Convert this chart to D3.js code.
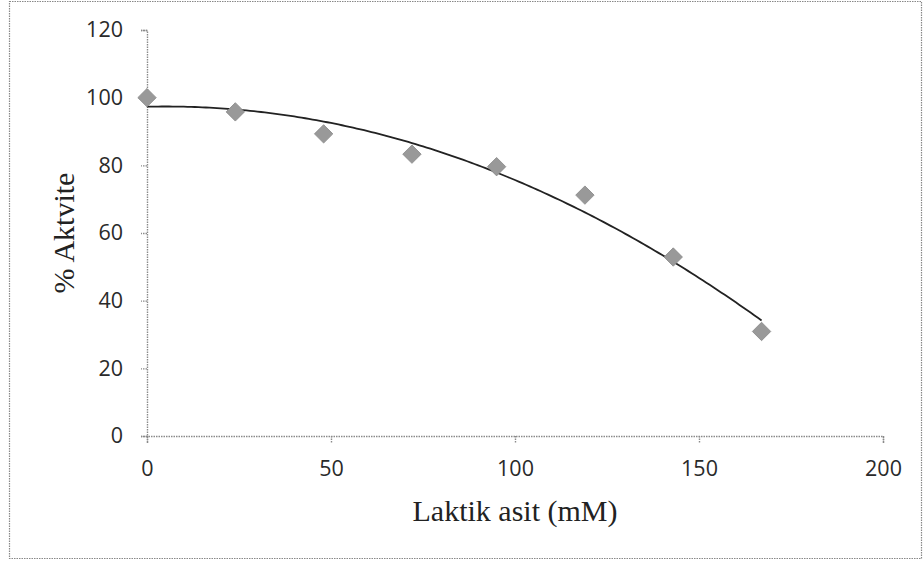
<!DOCTYPE html>
<html>
<head>
<meta charset="utf-8">
<script src="https://cdn.jsdelivr.net/npm/d3@7"></script>
<style>
	body { margin: 0; background: #fff; }
</style>
</head>
<body>
<div id="chart"></div>
<script>
// Laktik asit concentrations (mM) and measured % activity
const laktik = [0, 24, 48, 72, 95, 119, 143, 167];
const aktivite = [100, 95.8, 89.3, 83.3, 79.6, 71.2, 52.9, 30.9];
const xTicks = [0, 50, 100, 150, 200];
const yTicks = [0, 20, 40, 60, 80, 100, 120];

// 2nd order polynomial least squares (the chart's trend line)
const quadFit = (xs, ys) => {
	let s = [0, 0, 0, 0, 0], t = [0, 0, 0];
	xs.forEach((x, i) => {
		for (let k = 0; k < 5; k++) s[k] += Math.pow(x, k);
		for (let k = 0; k < 3; k++) t[k] += Math.pow(x, k) * ys[i];
	});
	// solve 3x3 normal equations
	const m = [
		[s[0], s[1], s[2], t[0]],
		[s[1], s[2], s[3], t[1]],
		[s[2], s[3], s[4], t[2]]
	];
	for (let i = 0; i < 3; i++) {
		for (let j = i + 1; j < 3; j++) {
			const f = m[j][i] / m[i][i];
			for (let k = i; k < 4; k++) m[j][k] -= f * m[i][k];
		}
	}
	const c = [0, 0, 0];
	for (let i = 2; i >= 0; i--) {
		let v = m[i][3];
		for (let k = i + 1; k < 3; k++) v -= m[i][k] * c[k];
		c[i] = v / m[i][i];
	}
	return (x) => c[0] + c[1] * x + c[2] * x * x;
};

const W = 924, H = 563;
const margin = { top: 30, right: 41, bottom: 127, left: 147 };
const width = W - margin.left - margin.right;
const height = H - margin.top - margin.bottom;

const svg = d3.select('#chart')
	.append('svg')
	.attr('width', W)
	.attr('height', H);

// outer chart frame
svg.append('rect')
	.attr('x', 9.5)
	.attr('y', 1.5)
	.attr('width', 912)
	.attr('height', 557)
	.attr('fill', 'none')
	.attr('stroke', '#888')
	.attr('stroke-width', 1.2)
	.attr('stroke-dasharray', '1.5 1');

const g = svg.append('g')
	.attr('transform', `translate(${margin.left},${margin.top})`);

const x = d3.scaleLinear().domain([0, 200]).range([0, width]);
const y = d3.scaleLinear().domain([0, 120]).range([height, 0]);

const styleAxis = (sel) => {
	sel.attr('font-size', 21.5).attr('font-family', "'Open Sans', 'Liberation Sans', sans-serif");
	sel.selectAll('path, line')
		.attr('stroke', '#8a8a8a')
		.attr('stroke-width', 1.4)
		.attr('stroke-dasharray', '1.5 1');
	sel.selectAll('text').attr('fill', '#2a2a2a');
};

g.append('g')
	.attr('transform', `translate(0,${height})`)
	.call(d3.axisBottom(x).tickValues(xTicks).tickSize(7).tickSizeOuter(7).tickPadding(18))
	.call(styleAxis);

g.append('g')
	.call(d3.axisLeft(y).tickValues(yTicks).tickSize(6).tickSizeOuter(6).tickPadding(18))
	.call(styleAxis);

// axis titles
svg.append('text')
	.attr('x', margin.left + x(100))
	.attr('y', 521)
	.attr('text-anchor', 'middle')
	.style('font-family', "'Liberation Serif', serif")
	.style('font-size', '30px')
	.attr('fill', '#222')
	.text('Laktik asit (mM)');

svg.append('text')
	.attr('transform', `translate(74,${margin.top + y(60)}) rotate(-90)`)
	.attr('text-anchor', 'middle')
	.style('font-family', "'Liberation Serif', serif")
	.style('font-size', '30px')
	.attr('fill', '#222')
	.text('% Aktvite');

// trend line
const predict = quadFit(laktik, aktivite);
const xs = d3.range(0, laktik[laktik.length - 1] + 0.001, 1);
g.append('path')
	.datum(xs)
	.attr('fill', 'none')
	.attr('stroke', '#222')
	.attr('stroke-width', 1.8)
	.attr('d', d3.line().x((d) => x(d)).y((d) => y(predict(d))));

// data markers
const pts = laktik.map((v, i) => ({ x: v, y: aktivite[i] }));
g.selectAll('.pt')
	.data(pts)
	.enter()
	.append('path')
	.attr('class', 'pt')
	.attr('d', d3.symbol(d3.symbolSquare, 13 * 13))
	.attr('transform', (d) => `translate(${x(d.x)},${y(d.y)}) rotate(45)`)
	.attr('fill', '#999')
	.attr('stroke', '#8a8a8a')
	.attr('stroke-width', 0.8);
</script>
</body>
</html>
